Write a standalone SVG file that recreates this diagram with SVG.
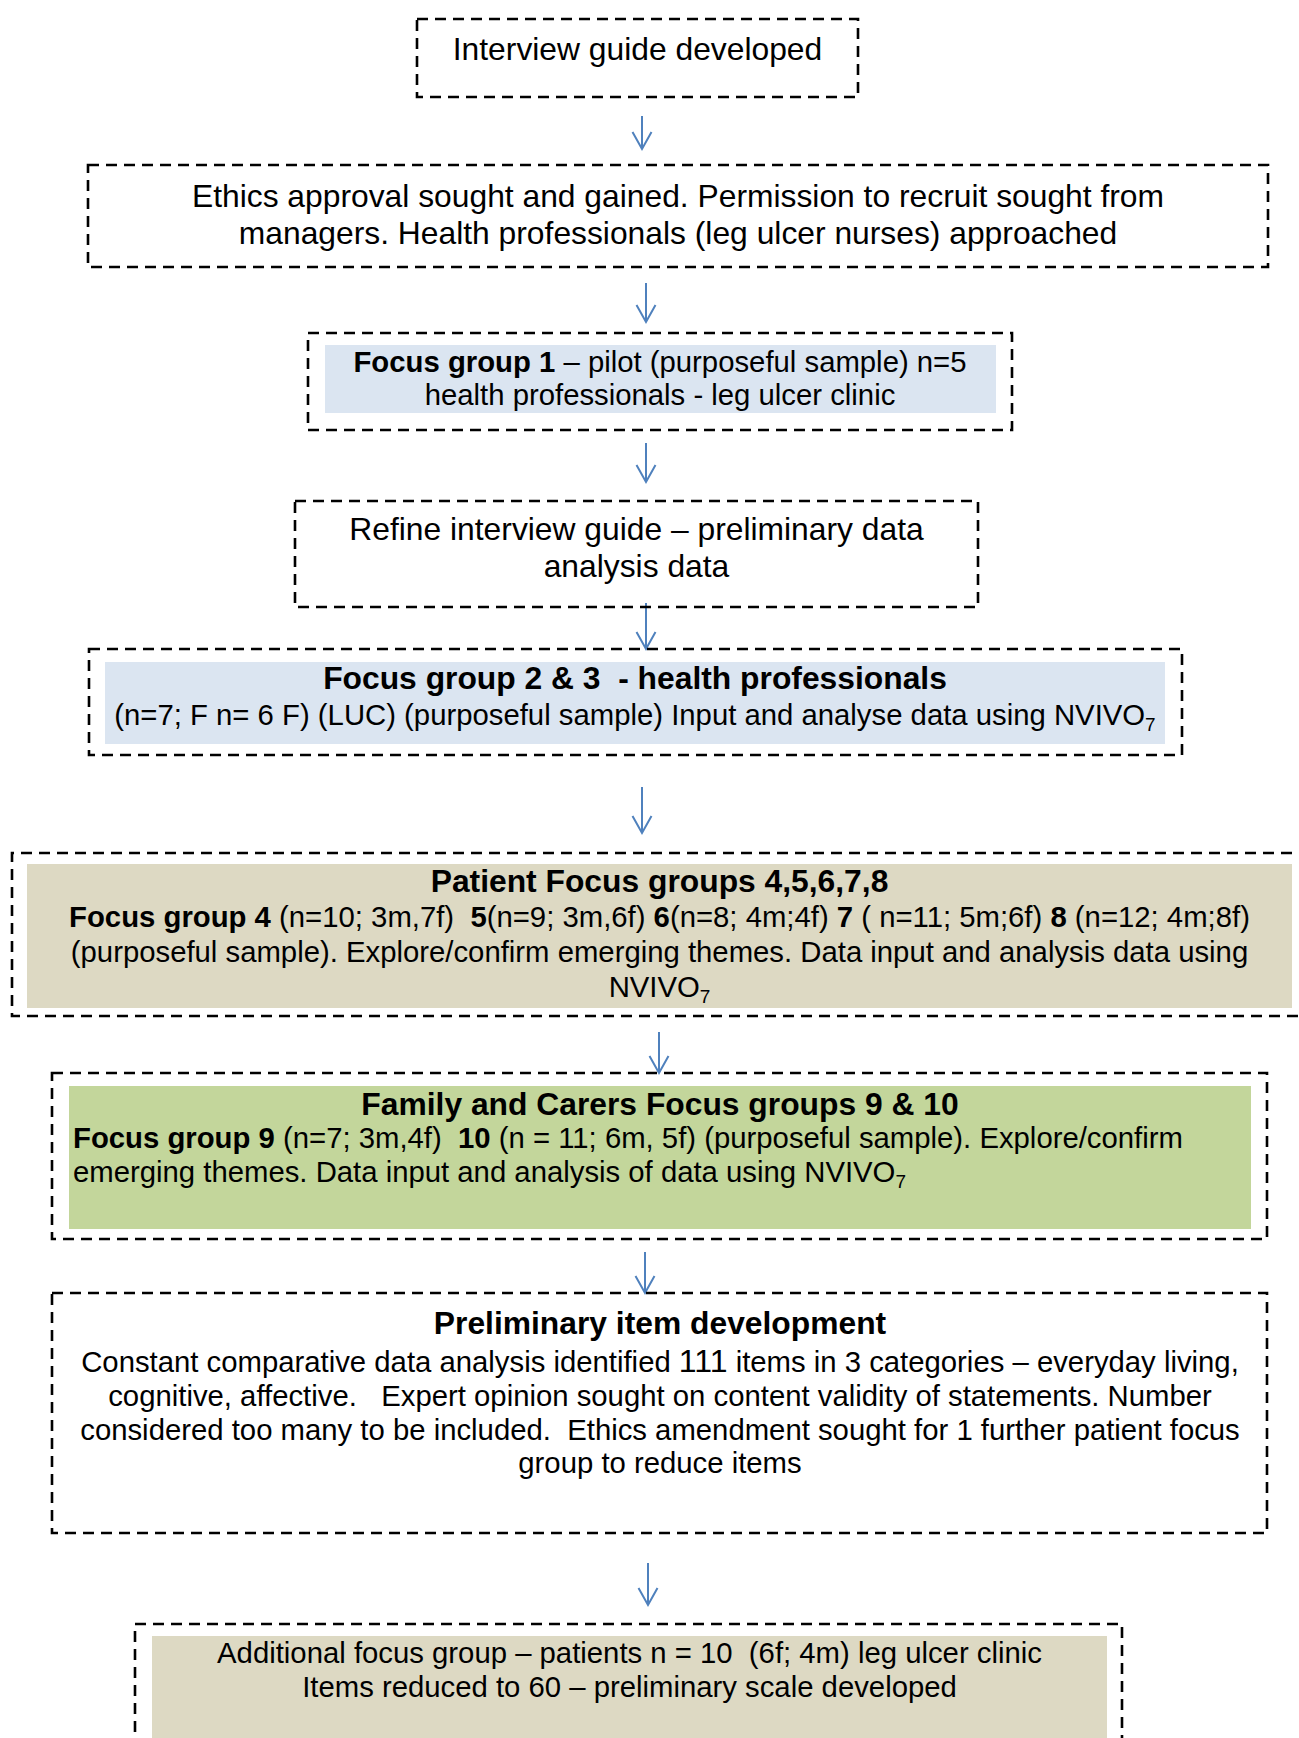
<svg xmlns="http://www.w3.org/2000/svg" width="1299" height="1738" viewBox="0 0 1299 1738">
<style>
.box{fill:none;stroke:#000;stroke-width:2.6;stroke-dasharray:11 7}
.t{font-family:"Liberation Sans",Arial,sans-serif;fill:#000;white-space:pre}
.c{text-anchor:middle}
.l32{font-size:31.8px}
.l29{font-size:29.3px}
.b{font-weight:bold}
.blue{fill:#DBE5F1}
.tan{fill:#DDD9C3}
.green{fill:#C3D69B}
.arrow{stroke:#4F81BD;stroke-width:2;fill:none}
</style>
<defs>
<marker id="head" markerUnits="userSpaceOnUse" markerWidth="22" markerHeight="22" viewBox="-19 -11 22 22" refX="0" refY="0" orient="auto">
<path d="M-17,-9.5 L0,0 L-17,9.5" fill="none" stroke="#4F81BD" stroke-width="2"/>
</marker>
</defs>
<rect width="1299" height="1738" fill="#fff"/>
<g id="connectors">
<line class="arrow" x1="642" y1="116" x2="642" y2="149" marker-end="url(#head)"/>
<line class="arrow" x1="646" y1="283" x2="646" y2="322" marker-end="url(#head)"/>
<line class="arrow" x1="646" y1="443" x2="646" y2="482" marker-end="url(#head)"/>
<line class="arrow" x1="646" y1="603" x2="646" y2="649" marker-end="url(#head)"/>
<line class="arrow" x1="642" y1="787" x2="642" y2="833" marker-end="url(#head)"/>
<line class="arrow" x1="659" y1="1032" x2="659" y2="1073" marker-end="url(#head)"/>
<line class="arrow" x1="645" y1="1252" x2="645" y2="1293" marker-end="url(#head)"/>
<line class="arrow" x1="648" y1="1563" x2="648" y2="1605" marker-end="url(#head)"/>
</g>
<g id="n1">
<rect class="box" x="417" y="19" width="441" height="78"/>
<text class="t c l32" x="637.5" y="60">Interview guide developed</text>
</g>
<g id="n2">
<rect class="box" x="88" y="165" width="1180" height="102"/>
<text class="t c l32" x="678" y="207">Ethics approval sought and gained. Permission to recruit sought from</text>
<text class="t c l32" x="678" y="244">managers. Health professionals (leg ulcer nurses) approached</text>
</g>
<g id="n3">
<rect class="box" x="308" y="333" width="704" height="97"/>
<rect class="blue" x="325" y="345" width="671" height="68"/>
<text class="t c l29" x="660" y="372"><tspan class="b">Focus group 1</tspan> – pilot (purposeful sample) n=5</text>
<text class="t c l29" x="660" y="405">health professionals - leg ulcer clinic</text>
</g>
<g id="n4">
<rect class="box" x="295" y="501" width="683" height="106"/>
<text class="t c l32" x="636.5" y="540">Refine interview guide – preliminary data</text>
<text class="t c l32" x="636.5" y="577">analysis data</text>
</g>
<g id="n5">
<rect class="box" x="89" y="649" width="1093" height="106"/>
<rect class="blue" x="105" y="662" width="1060" height="82"/>
<text class="t c l32 b" x="635" y="689">Focus group 2 &amp; 3  - health professionals</text>
<text class="t c l29" x="635" y="725">(n=7; F n= 6 F) (LUC) (purposeful sample) Input and analyse data using NVIVO<tspan font-size="19" dy="6">7</tspan></text>
</g>
<g id="n6">
<path class="box" d="M1310,853 H12 V1016 H1310"/>
<rect class="tan" x="27" y="864" width="1265" height="144"/>
<text class="t c l32 b" x="659.5" y="892">Patient Focus groups 4,5,6,7,8</text>
<text class="t c l29" x="659.5" y="927"><tspan class="b">Focus group 4</tspan> (n=10; 3m,7f)  <tspan class="b">5</tspan>(n=9; 3m,6f) <tspan class="b">6</tspan>(n=8; 4m;4f) <tspan class="b">7</tspan> ( n=11; 5m;6f) <tspan class="b">8</tspan> (n=12; 4m;8f)</text>
<text class="t c l29" x="659.5" y="962">(purposeful sample). Explore/confirm emerging themes. Data input and analysis data using</text>
<text class="t c l29" x="659.5" y="997">NVIVO<tspan font-size="19" dy="6">7</tspan></text>
</g>
<g id="n7">
<rect class="box" x="52" y="1073" width="1215" height="166"/>
<rect class="green" x="69" y="1086" width="1182" height="143"/>
<text class="t c l32 b" x="660" y="1115">Family and Carers Focus groups 9 &amp; 10</text>
<text class="t l29" x="73" y="1148"><tspan class="b">Focus group 9</tspan> (n=7; 3m,4f)  <tspan class="b">10</tspan> (n = 11; 6m, 5f) (purposeful sample). Explore/confirm</text>
<text class="t l29" x="73" y="1182">emerging themes. Data input and analysis of data using NVIVO<tspan font-size="19" dy="6">7</tspan></text>
</g>
<g id="n8">
<rect class="box" x="52" y="1293" width="1215" height="240"/>
<text class="t c l32 b" x="660" y="1334">Preliminary item development</text>
<text class="t c l29" x="660" y="1372">Constant comparative data analysis identified <tspan font-size="32">111</tspan> items in 3 categories – everyday living,</text>
<text class="t c l29" x="660" y="1406">cognitive, affective.   Expert opinion sought on content validity of statements. Number</text>
<text class="t c l29" x="660" y="1440">considered too many to be included.  Ethics amendment sought for 1 further patient focus</text>
<text class="t c l29" x="660" y="1473">group to reduce items</text>
</g>
<g id="n9">
<path class="box" d="M135,1750 V1624 H1122 V1750"/>
<rect class="tan" x="152" y="1636" width="955" height="110"/>
<text class="t c l29" x="629.5" y="1663">Additional focus group – patients n = 10  (6f; 4m) leg ulcer clinic</text>
<text class="t c l29" x="629.5" y="1697">Items reduced to 60 – preliminary scale developed</text>
</g>
</svg>
